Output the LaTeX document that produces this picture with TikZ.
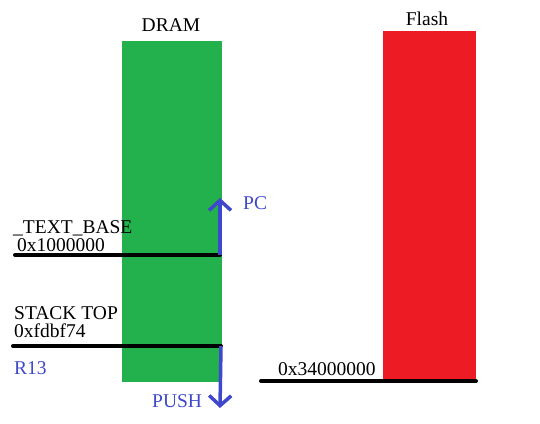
\documentclass[tikz,border=0pt]{standalone}
\usepackage{fontspec}
\setmainfont{Liberation Serif}
\usetikzlibrary{arrows.meta}
\definecolor{pgreen}{RGB}{34,177,76}
\definecolor{pred}{RGB}{237,28,36}
\definecolor{pblue}{RGB}{63,72,204}
\tikzset{
  block/.style={draw=none,inner sep=0pt,outer sep=0pt},
  lbl/.style={inner sep=0pt,anchor=base west,font=\fontsize{19.5}{19.5}\selectfont},
  title/.style={inner sep=0pt,anchor=base,font=\fontsize{19.5}{19.5}\selectfont},
  bluelbl/.style={lbl,text=pblue},
  bar/.style={line width=4pt,black,line cap=round},
  bluearrow/.style={line width=3.5pt,pblue,-{Straight Barb[length=10pt,width=22pt,line width=3.5pt]}}
}
\begin{document}
\begin{tikzpicture}[x=1pt,y=-1pt]
\useasboundingbox (0,0) rectangle (540,423);
% memory blocks
\node[block,fill=pgreen,minimum width=100pt,minimum height=341pt] (dram) at (172,211.5) {};
\node[block,fill=pred,minimum width=93pt,minimum height=349pt] (flash) at (429.5,205.5) {};
% titles
\node[title] (dramt) at (171,31) {DRAM};
\node[title] (flasht) at (427,25) {Flash};
% lines
\coordinate (tbl) at (15,255);
\coordinate (tbr) at (220,255);
\coordinate (stl) at (13,346);
\coordinate (str) at (221,346);
\coordinate (fll) at (261,381);
\coordinate (flr) at (476,381);
\draw[bar] (tbl) -- (tbr);
\draw[bar] (stl) -- (str);
\draw[bar] (fll) -- (flr);
% arrows
\coordinate (pcend) at (220,198);
\coordinate (pushend) at (220,408);
\draw[bluearrow] (tbr) -- (pcend);
\draw[bluearrow] (str) -- (pushend);
% labels
\node[lbl] (tbname) at (13,233) {\_TEXT\_BASE};
\node[lbl] (tbaddr) at (17,251) {0x1000000};
\node[lbl] (stname) at (14,319) {STACK TOP};
\node[lbl] (staddr) at (14,337) {0xfdbf74};
\node[lbl] (fladdr) at (278,375) {0x34000000};
\node[bluelbl] (pc) at (243,209) {PC};
\node[bluelbl] (r13) at (14,374) {R13};
\node[bluelbl] (push) at (152,407) {PUSH};
\end{tikzpicture}
\end{document}
